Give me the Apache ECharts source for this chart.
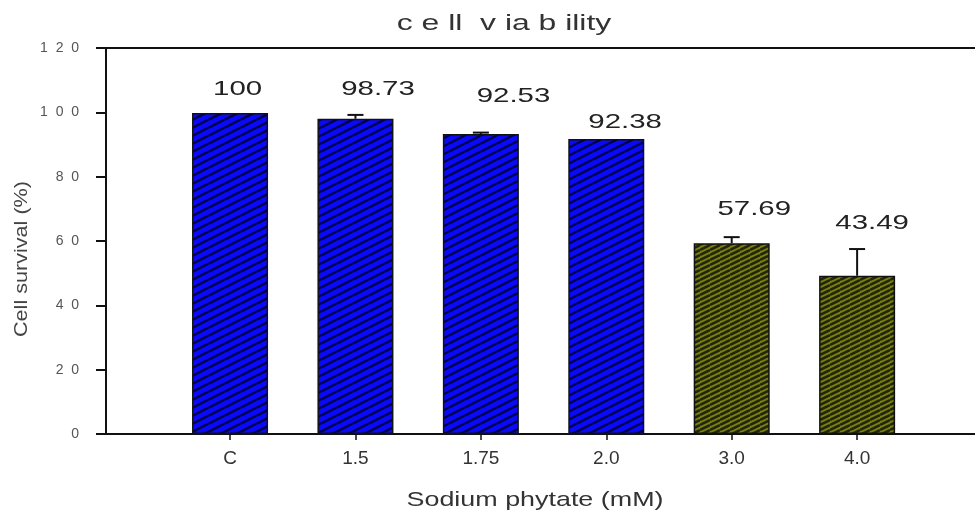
<!DOCTYPE html>
<html>
<head>
<meta charset="utf-8">
<script src="https://cdn.jsdelivr.net/npm/echarts@6/dist/echarts.min.js"></script>
<style>
  html, body { margin: 0; padding: 0; background: #fff; }
  #chart { width: 975px; height: 515px; }
</style>
</head>
<body>
<div id="chart"></div>
<script>
const categories = ['C', '1.5', '1.75', '2.0', '3.0', '4.0'];
const survival = [99.8, 98.0, 93.3, 91.7, 59.3, 49.2];
const errorUp = [0, 1.2, 0.4, 0, 1.9, 8.3];
const valueLabels = ['100', '98.73', '92.53', '92.38', '57.69', '43.49'];
// where the printed numbers sit, in y units and fraction of a category step
const labelLevel = [107.3, 107.3, 105.0, 96.9, 70.0, 65.5];
const labelShift = [0.06, 0.18, 0.26, 0.15, 0.18, 0.12];
const yTicks = [0, 20, 40, 60, 80, 100, 120];

const FONT = "'Liberation Sans', Arial, sans-serif";

function hatch(base, stripe, w, h, lw) {
  const c = document.createElement('canvas');
  c.width = w;
  c.height = h;
  const ctx = c.getContext('2d');
  ctx.fillStyle = base;
  ctx.fillRect(0, 0, w, h);
  ctx.strokeStyle = stripe;
  ctx.lineWidth = lw;
  for (let k = -1; k <= 1; k++) {
    ctx.beginPath();
    ctx.moveTo(0, h + k * h);
    ctx.lineTo(w, k * h);
    ctx.stroke();
  }
  return { image: c, repeat: 'repeat' };
}

const bluePattern = hatch('#0a0af8', 'rgba(0,0,50,0.9)', 16, 8, 2.4);
const olivePattern = hatch('#76800e', '#24240c', 10, 5, 2.5);

// categories sit at positions 1..6 on a numeric axis, the frame runs on past the last one
const positions = categories.map((c, i) => i + 1);
const barData = survival.map((v, i) => ({
  value: [positions[i], v],
  itemStyle: { color: i < 4 ? bluePattern : olivePattern }
}));
const errData = survival.map((v, i) => [positions[i], v, errorUp[i]]);
const labelData = labelLevel.map((v, i) => [positions[i], v]);

const X_MIN = 0.011;
const X_MAX = 6.94;

const chart = echarts.init(document.getElementById('chart'), null, { renderer: 'canvas' });

const option = {
  animation: false,
  backgroundColor: '#fff',
  grid: {
    left: 106,
    right: 0,
    top: 48,
    bottom: 81
  },
  xAxis: [
    {
      type: 'value',
      min: X_MIN,
      max: X_MAX,
      axisLine: { onZero: false, lineStyle: { color: '#111', width: 2 } },
      axisTick: {
        show: true,
        length: 6,
        customValues: positions,
        lineStyle: { color: '#111', width: 1.5 }
      },
      axisLabel: {
        customValues: positions,
        formatter: v => categories[Math.round(v) - 1] || '',
        margin: 15,
        color: '#333',
        fontFamily: FONT,
        fontSize: 19
      },
      splitLine: { show: false }
    },
    {
      type: 'value',
      position: 'top',
      min: X_MIN,
      max: X_MAX,
      axisLine: { show: true, onZero: false, lineStyle: { color: '#111', width: 2 } },
      axisTick: { show: false },
      axisLabel: { show: false },
      splitLine: { show: false }
    }
  ],
  yAxis: {
    type: 'value',
    min: yTicks[0],
    max: yTicks[yTicks.length - 1],
    interval: yTicks[1] - yTicks[0],
    axisLine: { show: true, lineStyle: { color: '#111', width: 2 } },
    axisTick: { show: true, length: 10, lineStyle: { color: '#111', width: 2 } },
    axisLabel: {
      margin: 27,
      color: '#555',
      fontFamily: FONT,
      fontSize: 14,
      formatter: v => String(v).split('').join('  ')
    },
    splitLine: { show: false }
  },
  graphic: [
    {
      type: 'text',
      x: 504,
      y: 24,
      scaleX: 1.45,
      style: {
        text: 'c e ll  v ia b ility',
        font: '22px ' + FONT,
        fill: '#333',
        align: 'center',
        verticalAlign: 'middle'
      }
    },
    {
      type: 'text',
      x: 535,
      y: 500,
      scaleX: 1.28,
      style: {
        text: 'Sodium phytate (mM)',
        font: '21px ' + FONT,
        fill: '#333',
        align: 'center',
        verticalAlign: 'middle'
      }
    },
    {
      type: 'text',
      x: 22,
      y: 259,
      rotation: Math.PI / 2,
      scaleX: 1.2,
      style: {
        text: 'Cell survival (%)',
        font: '18px ' + FONT,
        fill: '#444',
        align: 'center',
        verticalAlign: 'middle'
      }
    }
  ],
  series: [
    {
      type: 'bar',
      data: barData,
      barWidth: 76,
      itemStyle: { borderColor: '#111', borderWidth: 1.5 },
      z: 2
    },
    {
      type: 'custom',
      data: errData,
      z: 3,
      renderItem: (params, api) => {
        const err = api.value(2);
        if (!err) return null;
        const x = api.value(0);
        const base = api.coord([x, api.value(1)]);
        const top = api.coord([x, api.value(1) + err]);
        const half = 8;
        return {
          type: 'group',
          children: [
            {
              type: 'line',
              shape: { x1: base[0], y1: base[1], x2: top[0], y2: top[1] },
              style: { stroke: '#111', lineWidth: 2 }
            },
            {
              type: 'line',
              shape: { x1: top[0] - half, y1: top[1], x2: top[0] + half, y2: top[1] },
              style: { stroke: '#111', lineWidth: 2 }
            }
          ]
        };
      }
    },
    {
      type: 'custom',
      data: labelData,
      z: 4,
      renderItem: (params, api) => {
        const i = params.dataIndex;
        const p = api.coord([api.value(0), api.value(1)]);
        const step = api.size([1, 0])[0];
        return {
          type: 'text',
          x: p[0] + labelShift[i] * step,
          y: p[1],
          scaleX: 1.4,
          style: {
            text: valueLabels[i],
            font: '21px ' + FONT,
            fill: '#222',
            align: 'center',
            verticalAlign: 'middle'
          }
        };
      }
    }
  ]
};

chart.setOption(option);
</script>
</body>
</html>
